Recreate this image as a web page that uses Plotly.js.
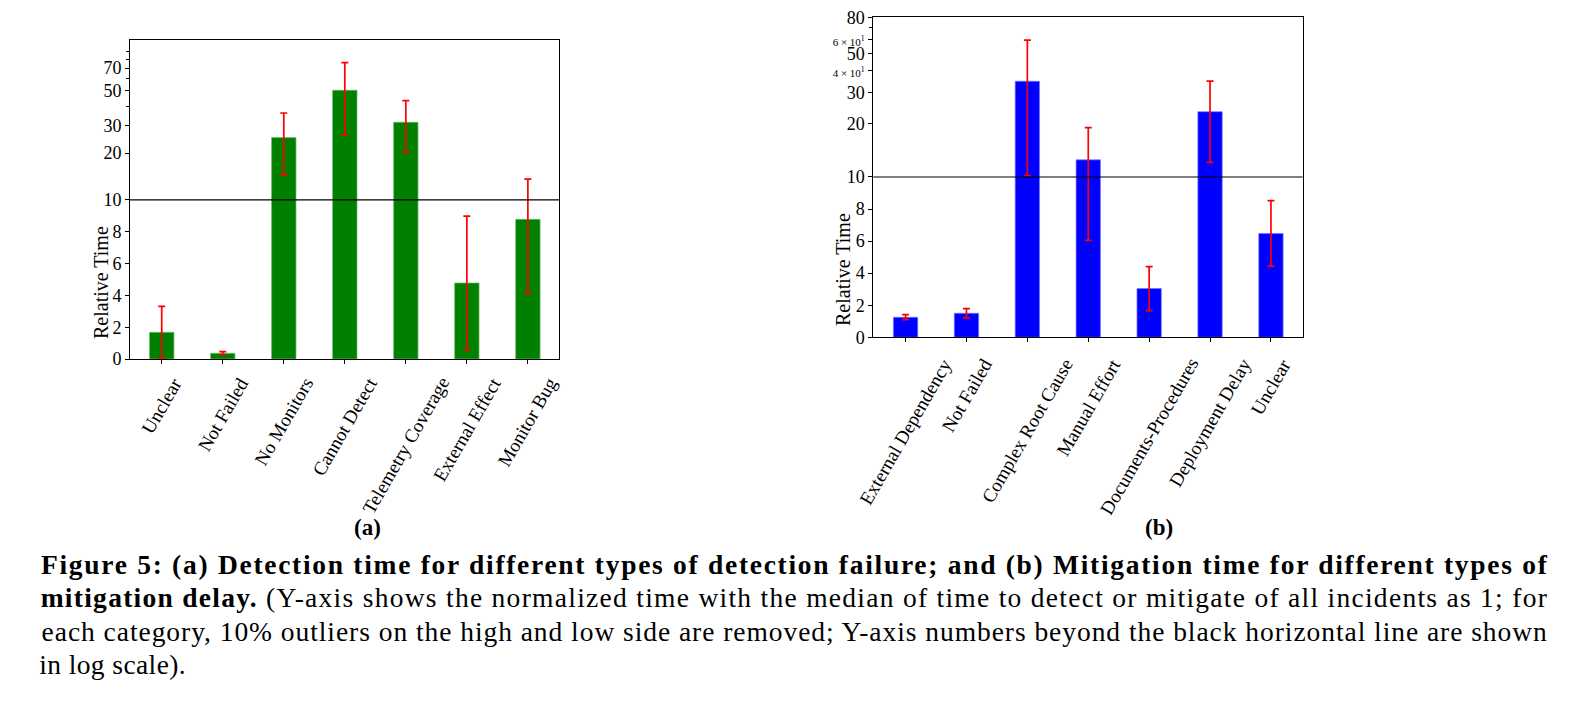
<!DOCTYPE html>
<html>
<head>
<meta charset="utf-8">
<script src="https://cdn.plot.ly/plotly-3.0.1.min.js"></script>
<style>
html,body{margin:0;padding:0;background:#fff;}
#chart{width:1587px;height:701px;}
.annotation[data-index="4"] text{letter-spacing:1.71px;}
.annotation[data-index="5"] text{letter-spacing:1.28px;}
.annotation[data-index="6"] text{letter-spacing:0.95px;}
.annotation[data-index="7"] text{letter-spacing:0.4px;}
</style>
</head>
<body>
<div id="chart"></div>
<script>
// ---- Data: panel (a) detection time ----
const catsA = ["Unclear", "Not Failed", "No Monitors", "Cannot Detect", "Telemetry Coverage", "External Effect", "Monitor Bug"];
const valsA = [1.68, 0.36, 25.1, 50.5, 31.5, 4.78, 8.78];
const hiA   = [3.31, 0.46, 36.1, 75.9, 43.3, 8.99, 13.6];
const loA   = [0.04, 0.25, 14.5, 26.0, 20.2, 0.57, 4.13];

// ---- Data: panel (b) mitigation time ----
const catsB = ["External Dependency", "Not Failed", "Complex Root Cause", "Manual Effort", "Documents-Procedures", "Deployment Delay", "Unclear"];
const valsB = [1.25, 1.5, 34.8, 12.5, 3.04, 23.4, 6.48];
const hiB   = [1.41, 1.79, 59.4, 19.0, 4.41, 34.8, 8.52];
const loB   = [1.10, 1.21, 10.17, 6.04, 1.66, 12.1, 4.44];

// ---- Tick labels ----
const tickValsA = [0, 2, 4, 6, 8, 10, 20, 30, 50, 70];
const tickTextA = ["0", "2", "4", "6", "8", "10", "20", "30", "50", "70"];
const minorValsA = [40, 60, 80, 90];
const tickValsB = [0, 2, 4, 6, 8, 10, 20, 30, 40, 50, 60, 80];
const tickTextB = ["0", "2", "4", "6", "8", "10", "20", "30",
  "<span style='font-size:11px'>4 × 10<sup>1</sup></span>", "50",
  "<span style='font-size:11px'>6 × 10<sup>1</sup></span>", "80"];
const minorValsB = [70];

// Piecewise axis: linear below the break (10), log above it
const BREAK = 10;
function makeT(decadeUnits) {
  return v => v <= BREAK ? v : BREAK + decadeUnits * Math.log10(v / BREAK);
}
const tA = makeT(9.81);
const tB = makeT(11.03);

function barTrace(cats, vals, hi, lo, t, color, edge, xa, ya) {
  const y = vals.map(t);
  return {
    type: 'bar', x: cats, y: y, xaxis: xa, yaxis: ya, width: 0.4,
    marker: {color: color, line: {width: 0.8, color: edge}},
    error_y: {
      type: 'data', symmetric: false,
      array: hi.map((h, i) => t(h) - y[i]),
      arrayminus: lo.map((l, i) => y[i] - t(l)),
      color: '#ff0000', thickness: 1.7, width: 3.5
    },
    hoverinfo: 'x', showlegend: false
  };
}

const W = 1587, H = 701;
const px = x => x / W;
const py = y => 1 - y / H;

const serif = "Liberation Serif, DejaVu Serif, serif";
const axisCommon = {
  showline: true, linecolor: '#000', linewidth: 1, mirror: true,
  showgrid: false, zeroline: false, ticks: 'outside', ticklen: 4, tickcolor: '#000',
  tickfont: {family: serif, size: 18, color: '#000'}
};

const data = [
  barTrace(catsA, valsA, hiA, loA, tA, '#008000', 'rgba(110,185,110,0.9)', 'x', 'y'),
  barTrace(catsB, valsB, hiB, loB, tB, '#0000ff', 'rgba(120,120,255,0.9)', 'x2', 'y2')
];

function catLabels(cats, xref, yPix) {
  return cats.map(c => ({
    text: c, xref: xref, yref: 'paper', x: c, y: py(yPix),
    xanchor: 'center', yanchor: 'top', textangle: -60, showarrow: false,
    font: {family: serif, size: 19, color: '#000'}
  }));
}

const capFont = {family: serif, size: 27.5, color: '#000'};
const capCenter = px(794.5);

const layout = {
  width: W, height: H,
  margin: {l: 0, r: 0, t: 0, b: 0},
  paper_bgcolor: '#fff', plot_bgcolor: '#fff',
  font: {family: serif, color: '#000'},
  bargap: 0,
  xaxis: Object.assign({}, axisCommon, {
    domain: [px(130), px(559)], anchor: 'y', range: [-0.52, 6.51], showticklabels: false
  }),
  yaxis: Object.assign({}, axisCommon, {
    domain: [py(359), py(40)], anchor: 'x', range: [0, tA(106)],
    tickmode: 'array', tickvals: tickValsA.map(tA), ticktext: tickTextA,
    minor: {tickvals: minorValsA.map(tA), ticks: 'outside', ticklen: 3, tickcolor: '#000'}
  }),
  xaxis2: Object.assign({}, axisCommon, {
    domain: [px(873.3), px(1302.6)], anchor: 'y2', range: [-0.53, 6.52], showticklabels: false
  }),
  yaxis2: Object.assign({}, axisCommon, {
    domain: [py(337.3), py(17.3)], anchor: 'x2', range: [0, tB(80)],
    tickmode: 'array', tickvals: tickValsB.map(tB), ticktext: tickTextB,
    minor: {tickvals: minorValsB.map(tB), ticks: 'outside', ticklen: 3, tickcolor: '#000'}
  }),
  shapes: [
    {type: 'line', xref: 'x domain', yref: 'y', x0: 0, x1: 1, y0: tA(BREAK), y1: tA(BREAK), line: {color: '#000', width: 1.2}},
    {type: 'line', xref: 'x2 domain', yref: 'y2', x0: 0, x1: 1, y0: tB(BREAK), y1: tB(BREAK), line: {color: '#000', width: 1.2}}
  ],
  annotations: [
    {text: 'Relative Time', textangle: -90, xref: 'paper', yref: 'paper', x: px(101), y: py(283), xanchor: 'center', yanchor: 'middle', showarrow: false, font: {family: serif, size: 20, color: '#000'}},
    {text: 'Relative Time', textangle: -90, xref: 'paper', yref: 'paper', x: px(843), y: py(270), xanchor: 'center', yanchor: 'middle', showarrow: false, font: {family: serif, size: 20, color: '#000'}},
    {text: '<b>(a)</b>', xref: 'paper', yref: 'paper', x: px(367), y: py(527), xanchor: 'center', yanchor: 'middle', showarrow: false, font: {family: serif, size: 23, color: '#000'}},
    {text: '<b>(b)</b>', xref: 'paper', yref: 'paper', x: px(1159), y: py(527), xanchor: 'center', yanchor: 'middle', showarrow: false, font: {family: serif, size: 23, color: '#000'}},
    {text: '<b>Figure 5: (a) Detection time for different types of detection failure; and (b) Mitigation time for different types of</b>', xref: 'paper', yref: 'paper', x: capCenter, y: py(564), xanchor: 'center', yanchor: 'middle', showarrow: false, font: capFont},
    {text: '<b>mitigation delay.</b> (Y-axis shows the normalized time with the median of time to detect or mitigate of all incidents as 1; for', xref: 'paper', yref: 'paper', x: capCenter, y: py(597.5), xanchor: 'center', yanchor: 'middle', showarrow: false, font: capFont},
    {text: 'each category, 10% outliers on the high and low side are removed; Y-axis numbers beyond the black horizontal line are shown', xref: 'paper', yref: 'paper', x: capCenter, y: py(631), xanchor: 'center', yanchor: 'middle', showarrow: false, font: capFont},
    {text: 'in log scale).', xref: 'paper', yref: 'paper', x: px(40), y: py(664.5), xanchor: 'left', yanchor: 'middle', showarrow: false, font: capFont}
  ].concat(catLabels(catsA, 'x', 371), catLabels(catsB, 'x2', 352))
};

Plotly.newPlot('chart', data, layout, {displayModeBar: false, staticPlot: true});
</script>
</body>
</html>
